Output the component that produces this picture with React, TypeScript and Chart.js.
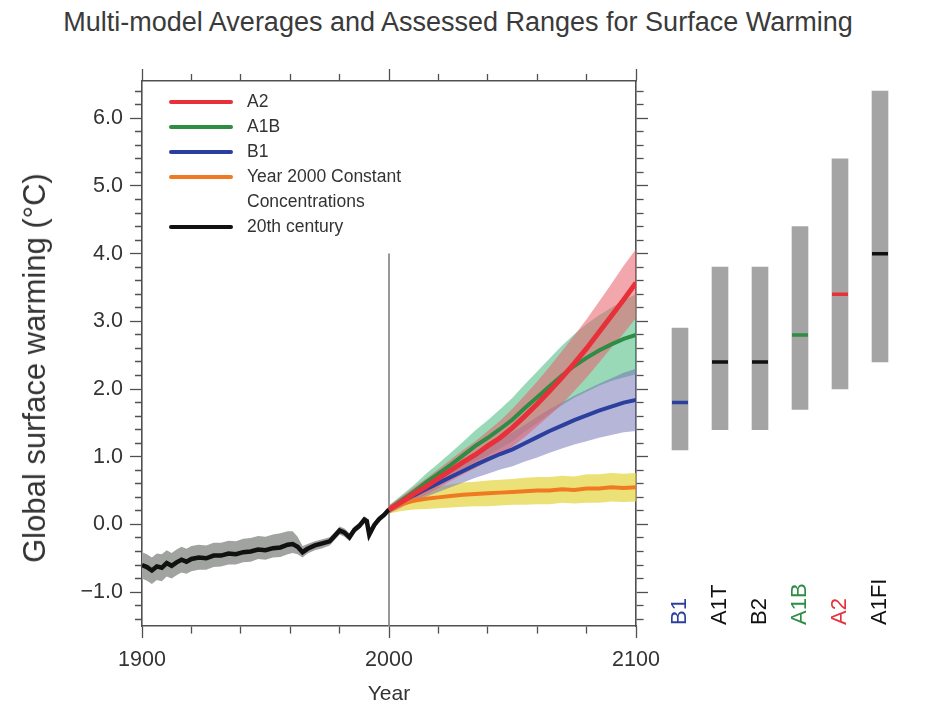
import React, { useEffect, useRef } from "react";
import { Chart, registerables } from "chart.js";

Chart.register(...registerables);
Chart.defaults.font.family = "'Liberation Sans', Arial, sans-serif";

// ---------- data ----------
const HIST_YEARS = [1900, 1902, 1904, 1906, 1908, 1910, 1912, 1914, 1916, 1918, 1920, 1923, 1926, 1929, 1932, 1935, 1938, 1941, 1944, 1947, 1950, 1953, 1956, 1959, 1961, 1963, 1965, 1967, 1970, 1973, 1976, 1978, 1980, 1982, 1984, 1986, 1988, 1990, 1991, 1992, 1994, 1996, 1998, 2000];
const HIST_MEAN = [-0.60, -0.63, -0.68, -0.62, -0.64, -0.57, -0.61, -0.56, -0.52, -0.55, -0.51, -0.49, -0.50, -0.46, -0.46, -0.43, -0.44, -0.41, -0.40, -0.37, -0.38, -0.35, -0.34, -0.30, -0.29, -0.33, -0.41, -0.36, -0.31, -0.28, -0.25, -0.17, -0.09, -0.12, -0.19, -0.08, -0.02, 0.07, 0.05, -0.15, -0.01, 0.08, 0.14, 0.22];
const HIST_HIGH = [-0.41, -0.44, -0.49, -0.43, -0.44, -0.38, -0.42, -0.37, -0.33, -0.36, -0.32, -0.30, -0.31, -0.27, -0.27, -0.24, -0.25, -0.21, -0.20, -0.17, -0.18, -0.15, -0.13, -0.10, -0.10, -0.18, -0.32, -0.29, -0.25, -0.22, -0.19, -0.11, -0.03, -0.06, -0.13, -0.03, 0.03, 0.12, 0.10, -0.10, 0.04, 0.12, 0.18, 0.26];
const HIST_LOW = [-0.80, -0.83, -0.88, -0.82, -0.84, -0.77, -0.80, -0.75, -0.71, -0.73, -0.69, -0.67, -0.67, -0.63, -0.62, -0.59, -0.59, -0.56, -0.55, -0.51, -0.52, -0.49, -0.48, -0.44, -0.42, -0.44, -0.49, -0.43, -0.38, -0.35, -0.31, -0.23, -0.15, -0.18, -0.25, -0.13, -0.07, 0.02, 0.00, -0.20, -0.06, 0.04, 0.10, 0.18];

const PROJ_YEARS = [2000, 2005, 2010, 2015, 2020, 2025, 2030, 2035, 2040, 2045, 2050, 2055, 2060, 2065, 2070, 2075, 2080, 2085, 2090, 2095, 2100];

const A2_MEAN = [0.22, 0.33, 0.45, 0.56, 0.68, 0.80, 0.92, 1.03, 1.16, 1.28, 1.43, 1.60, 1.78, 1.97, 2.17, 2.38, 2.60, 2.84, 3.08, 3.32, 3.57];
const A2_HIGH = [0.28, 0.41, 0.55, 0.68, 0.82, 0.96, 1.10, 1.23, 1.38, 1.53, 1.71, 1.91, 2.11, 2.33, 2.56, 2.79, 3.03, 3.29, 3.55, 3.82, 4.07];
const A2_LOW = [0.16, 0.25, 0.35, 0.44, 0.54, 0.64, 0.74, 0.83, 0.94, 1.03, 1.15, 1.29, 1.45, 1.61, 1.78, 1.97, 2.17, 2.39, 2.61, 2.82, 3.05];

const A1B_MEAN = [0.22, 0.35, 0.48, 0.62, 0.75, 0.88, 1.02, 1.16, 1.28, 1.41, 1.55, 1.72, 1.88, 2.04, 2.20, 2.34, 2.46, 2.57, 2.66, 2.74, 2.80];
const A1B_HIGH = [0.28, 0.43, 0.58, 0.75, 0.90, 1.06, 1.22, 1.39, 1.54, 1.70, 1.87, 2.07, 2.26, 2.45, 2.64, 2.81, 2.96, 3.09, 3.20, 3.31, 3.40];
const A1B_LOW = [0.16, 0.27, 0.38, 0.49, 0.60, 0.70, 0.82, 0.93, 1.02, 1.12, 1.23, 1.37, 1.50, 1.63, 1.76, 1.87, 1.96, 2.05, 2.12, 2.17, 2.22];

const B1_MEAN = [0.22, 0.33, 0.43, 0.52, 0.61, 0.70, 0.79, 0.88, 0.96, 1.04, 1.11, 1.20, 1.29, 1.38, 1.46, 1.54, 1.61, 1.68, 1.74, 1.80, 1.84];
const B1_HIGH = [0.27, 0.40, 0.52, 0.63, 0.74, 0.85, 0.96, 1.07, 1.17, 1.27, 1.36, 1.47, 1.59, 1.70, 1.80, 1.90, 1.99, 2.08, 2.16, 2.24, 2.30];
const B1_LOW = [0.17, 0.26, 0.34, 0.41, 0.48, 0.55, 0.62, 0.69, 0.75, 0.81, 0.86, 0.93, 0.99, 1.06, 1.12, 1.18, 1.23, 1.28, 1.32, 1.36, 1.38];

const CONST_MEAN = [0.22, 0.30, 0.35, 0.38, 0.40, 0.42, 0.44, 0.45, 0.46, 0.47, 0.48, 0.49, 0.50, 0.50, 0.52, 0.51, 0.53, 0.53, 0.55, 0.54, 0.55];
const CONST_HIGH = [0.28, 0.40, 0.48, 0.53, 0.56, 0.59, 0.62, 0.63, 0.65, 0.66, 0.67, 0.69, 0.70, 0.70, 0.72, 0.71, 0.74, 0.74, 0.76, 0.75, 0.76];
const CONST_LOW = [0.16, 0.20, 0.22, 0.23, 0.24, 0.25, 0.26, 0.27, 0.27, 0.28, 0.29, 0.29, 0.30, 0.30, 0.32, 0.31, 0.32, 0.32, 0.34, 0.33, 0.34];

const MARKER_YEARS = [2000, 2000];
const MARKER_VALUES = [4.0, -1.5];

const SCENARIOS = ["B1", "A1T", "B2", "A1B", "A2", "A1FI"];
const SCEN_LOW = [1.1, 1.4, 1.4, 1.7, 2.0, 2.4];
const SCEN_HIGH = [2.9, 3.8, 3.8, 4.4, 5.4, 6.4];
const SCEN_BEST = [1.8, 2.4, 2.4, 2.8, 3.4, 4.0];
const SCEN_COLORS = ["#2b3f9e", "#111111", "#111111", "#2e8c45", "#e8303a", "#111111"];

const LEGEND_LABELS = [["A2"], ["A1B"], ["B1"], ["Year 2000 Constant", "Concentrations"], ["20th century"]];
const LEGEND_COLORS = ["#e8303a", "#2e8c45", "#2b3f9e", "#f07a22", "#111111"];

const X_TICKS = [1900, 1920, 1940, 1960, 1980, 2000, 2020, 2040, 2060, 2080, 2100];
const X_LABELS = [1900, 2000, 2100];
const Y_TICKS = [-1.4, -1.2, -1.0, -0.8, -0.6, -0.4, -0.2, 0.0, 0.2, 0.4, 0.6, 0.8, 1.0, 1.2, 1.4, 1.6, 1.8, 2.0, 2.2, 2.4, 2.6, 2.8, 3.0, 3.2, 3.4, 3.6, 3.8, 4.0, 4.2, 4.4, 4.6, 4.8, 5.0, 5.2, 5.4, 5.6, 5.8, 6.0, 6.2, 6.4];
const Y_LABELS = [-1, 0, 1, 2, 3, 4, 5, 6];
const Y_MIN = -1.5;
const Y_MAX = 6.55;

// ---------- helpers ----------
const pts = (xs: number[], ys: number[]) => xs.map((x, i) => ({ x, y: ys[i] }));
const isMajorY = (v: number) => Y_LABELS.some((m) => Math.abs(m - v) < 1e-6);
const isMajorX = (v: number) => X_LABELS.some((m) => Math.abs(m - v) < 1e-6);
const fmtY = (v: number) => (v < 0 ? "\u2212" + Math.abs(v).toFixed(1) : v.toFixed(1));

const FRAME = "#505050";
const TEXT = "#333333";
const FONT = "'Liberation Sans', Arial, sans-serif";

const mean = (data: any, color: string, width: number) => ({
  type: "line", data, borderColor: color, borderWidth: width, pointRadius: 0, fill: false, tension: 0,
});
const upper = (data: any, color: string) => ({
  type: "line", data, borderWidth: 0, borderColor: "rgba(0,0,0,0)", backgroundColor: color, pointRadius: 0, fill: "+1", tension: 0,
});
const lower = (data: any) => ({
  type: "line", data, borderWidth: 0, borderColor: "rgba(0,0,0,0)", pointRadius: 0, fill: false, tension: 0,
});

const legendPlugin = {
  id: "insideLegend",
  afterDatasetsDraw(chart: any) {
    const { ctx, chartArea } = chart;
    ctx.save();
    ctx.font = "17.5px " + FONT;
    ctx.textBaseline = "middle";
    ctx.textAlign = "left";
    let row = 0;
    LEGEND_LABELS.forEach((lines, i) => {
      const y = chartArea.top + 21 + row * 25;
      ctx.strokeStyle = LEGEND_COLORS[i];
      ctx.lineWidth = 4;
      ctx.lineCap = "round";
      ctx.beginPath();
      ctx.moveTo(chartArea.left + 29, y);
      ctx.lineTo(chartArea.left + 89, y);
      ctx.stroke();
      ctx.fillStyle = TEXT;
      lines.forEach((t, k) => ctx.fillText(t, chartArea.left + 105, y + k * 25));
      row += lines.length;
    });
    ctx.restore();
  },
};

const scenarioLabelPlugin = {
  id: "scenarioLabels",
  afterDraw(chart: any) {
    const { ctx, chartArea } = chart;
    const xs = chart.scales.x;
    ctx.save();
    ctx.font = "22px " + FONT;
    ctx.textAlign = "left";
    ctx.textBaseline = "middle";
    SCENARIOS.forEach((s, i) => {
      ctx.save();
      ctx.translate(xs.getPixelForValue(i), chartArea.bottom - 1);
      ctx.rotate(-Math.PI / 2);
      ctx.fillStyle = SCEN_COLORS[i];
      ctx.fillText(s, 0, 0);
      ctx.restore();
    });
    ctx.restore();
  },
};

const PAD_LEFT = 12;
const AREA_LEFT = 142;
const AREA_RIGHT = 636;
const AREA_TOP = 81;
const AREA_BOTTOM = 626;
const W = 941;
const H = 711;

function mainConfig(): any {
  const xTicks = (s: any) => { s.ticks = X_TICKS.map((v) => ({ value: v })); };
  const yTicks = (s: any) => { s.ticks = Y_TICKS.map((v) => ({ value: v })); };
  const gridBase = { drawOnChartArea: false, tickLength: 12, tickColor: FRAME, tickWidth: 1.3 };
  const border = { color: FRAME, width: 1.6 };
  return {
    type: "line",
    data: {
      datasets: [
        mean(pts(PROJ_YEARS, A2_MEAN), "#e8303a", 5),
        mean(pts(PROJ_YEARS, A1B_MEAN), "#2e8c45", 4),
        mean(pts(PROJ_YEARS, B1_MEAN), "#2b3f9e", 4),
        mean(pts(PROJ_YEARS, CONST_MEAN), "#f07a22", 4),
        mean(pts(HIST_YEARS, HIST_MEAN), "#111111", 4.5),
        upper(pts(PROJ_YEARS, A2_HIGH), "rgba(232,95,105,0.55)"),
        lower(pts(PROJ_YEARS, A2_LOW)),
        upper(pts(PROJ_YEARS, B1_HIGH), "rgba(110,110,180,0.5)"),
        lower(pts(PROJ_YEARS, B1_LOW)),
        upper(pts(PROJ_YEARS, A1B_HIGH), "rgba(70,185,125,0.55)"),
        lower(pts(PROJ_YEARS, A1B_LOW)),
        upper(pts(PROJ_YEARS, CONST_HIGH), "rgba(228,212,60,0.7)"),
        lower(pts(PROJ_YEARS, CONST_LOW)),
        upper(pts(HIST_YEARS, HIST_HIGH), "rgba(160,163,160,1)"),
        lower(pts(HIST_YEARS, HIST_LOW)),
        mean(pts(MARKER_YEARS, MARKER_VALUES), "#8a8a8a", 1),
      ],
    },
    options: {
      responsive: false,
      animation: false,
      events: [],
      layout: { padding: { left: PAD_LEFT, right: W - AREA_RIGHT - 12, top: AREA_TOP - 12, bottom: 0 } },
      plugins: { legend: { display: false }, tooltip: { enabled: false } },
      scales: {
        x: {
          type: "linear", position: "bottom", min: 1900, max: 2100,
          afterBuildTicks: xTicks,
          afterFit: (s: any) => { s.height = H - AREA_BOTTOM; },
          ticks: { autoSkip: false, maxRotation: 0, padding: 9, color: TEXT, font: { size: 21.5 },
            callback: (v: number) => (isMajorX(v) ? String(v) : "") },
          grid: { ...gridBase, tickBorderDash: (c: any) => (isMajorX(c.tick.value) ? [] : [7, 100]) },
          border,
          title: { display: true, text: "Year", color: TEXT, font: { size: 21 }, padding: { top: 0, bottom: 4 } },
        },
        xTop: {
          type: "linear", position: "top", min: 1900, max: 2100,
          afterBuildTicks: xTicks,
          afterFit: (s: any) => { s.height = 12; },
          ticks: { display: false, autoSkip: false },
          grid: { ...gridBase, tickBorderDash: (c: any) => (isMajorX(c.tick.value) ? [] : [0, 5, 7, 100]) },
          border,
        },
        y: {
          type: "linear", position: "left", min: Y_MIN, max: Y_MAX,
          afterBuildTicks: yTicks,
          afterFit: (s: any) => { s.width = AREA_LEFT - PAD_LEFT; },
          ticks: { autoSkip: false, padding: 7, color: TEXT, font: { size: 21.5 },
            callback: (v: number) => (isMajorY(v) ? fmtY(v) : "") },
          grid: { ...gridBase, tickBorderDash: (c: any) => (isMajorY(c.tick.value) ? [] : [0, 5, 7, 100]) },
          border,
        },
        yRight: {
          type: "linear", position: "right", min: Y_MIN, max: Y_MAX,
          afterBuildTicks: yTicks,
          afterFit: (s: any) => { s.width = 12; },
          ticks: { display: false, autoSkip: false },
          grid: { ...gridBase, tickBorderDash: (c: any) => (isMajorY(c.tick.value) ? [] : [7, 100]) },
          border,
        },
      },
    },
    plugins: [legendPlugin],
  };
}

function barConfig(): any {
  return {
    type: "bar",
    data: {
      labels: SCENARIOS,
      datasets: [
        {
          type: "line", data: SCEN_BEST, showLine: false, pointStyle: "line", pointRadius: 8,
          pointBorderWidth: 3.5, pointBorderColor: SCEN_COLORS, pointBackgroundColor: SCEN_COLORS, order: 0,
        },
        {
          type: "bar", data: SCEN_LOW.map((lo, i) => [lo, SCEN_HIGH[i]]), backgroundColor: "#a3a4a3",
          borderWidth: 0, barThickness: 16, order: 1,
        },
      ],
    },
    options: {
      responsive: false,
      animation: false,
      events: [],
      layout: { padding: { left: 660, right: W - 900, top: AREA_TOP, bottom: H - AREA_BOTTOM } },
      plugins: { legend: { display: false }, tooltip: { enabled: false } },
      scales: {
        x: { type: "category", display: false, offset: true },
        y: { type: "linear", display: false, min: Y_MIN, max: Y_MAX },
      },
    },
    plugins: [scenarioLabelPlugin],
  };
}

export default function App() {
  const mainRef = useRef<HTMLCanvasElement>(null);
  const barRef = useRef<HTMLCanvasElement>(null);
  useEffect(() => {
    const c1 = new Chart(mainRef.current as HTMLCanvasElement, mainConfig());
    const c2 = new Chart(barRef.current as HTMLCanvasElement, barConfig());
    return () => {
      c1.destroy();
      c2.destroy();
    };
  }, []);
  return (
    <div style={{ position: "absolute", left: 0, top: 0, width: W, height: H, background: "#ffffff", overflow: "hidden" }}>
      <div
        style={{
          position: "absolute", left: 0, top: 7, width: 916, textAlign: "center", whiteSpace: "nowrap",
          fontFamily: FONT, fontSize: 27, lineHeight: "31px", color: "#3a3a3a",
        }}
      >
        Multi-model Averages and Assessed Ranges for Surface Warming
      </div>
      <canvas ref={mainRef} width={W} height={H} style={{ position: "absolute", left: 0, top: 0 }} />
      <canvas ref={barRef} width={W} height={H} style={{ position: "absolute", left: 0, top: 0, pointerEvents: "none" }} />
      <div
        style={{
          position: "absolute", left: 35, top: 368, transform: "translate(-50%, -50%) rotate(-90deg)",
          whiteSpace: "nowrap", fontFamily: FONT, fontSize: 31, lineHeight: "36px", color: TEXT,
        }}
      >
        Global surface warming (°C)
      </div>
    </div>
  );
}
